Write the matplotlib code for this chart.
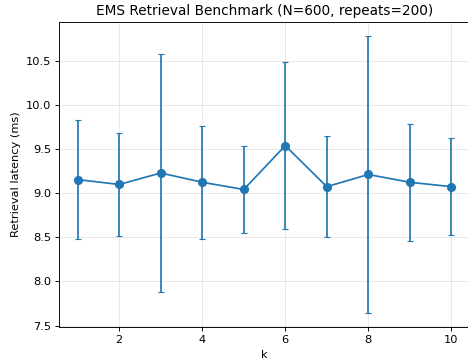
import matplotlib
matplotlib.use('Agg')
import matplotlib.pyplot as plt

# data
k = [1, 2, 3, 4, 5, 6, 7, 8, 9, 10]
mean_ms = [9.155, 9.10, 9.23, 9.125, 9.043, 9.54, 9.075, 9.213, 9.125, 9.075]
std_ms = [0.675, 0.588, 1.348, 0.638, 0.49, 0.944, 0.576, 1.572, 0.665, 0.551]

DPI = 82
fig = plt.figure(figsize=(468 / DPI, 360 / DPI), dpi=DPI)
# right spine sits just past the image edge in the reference
ax = fig.add_axes([59 / 468, 33 / 360, 411 / 468, 305 / 360])

ax.errorbar(k, mean_ms, yerr=std_ms, marker='o', markersize=7, capsize=3)

ax.set_title('EMS Retrieval Benchmark (N=600, repeats=200)')
ax.set_xlabel('k')
ax.set_ylabel('Retrieval latency (ms)')
ax.grid(True, alpha=0.3)

plt.savefig('out.png', dpi=DPI)
